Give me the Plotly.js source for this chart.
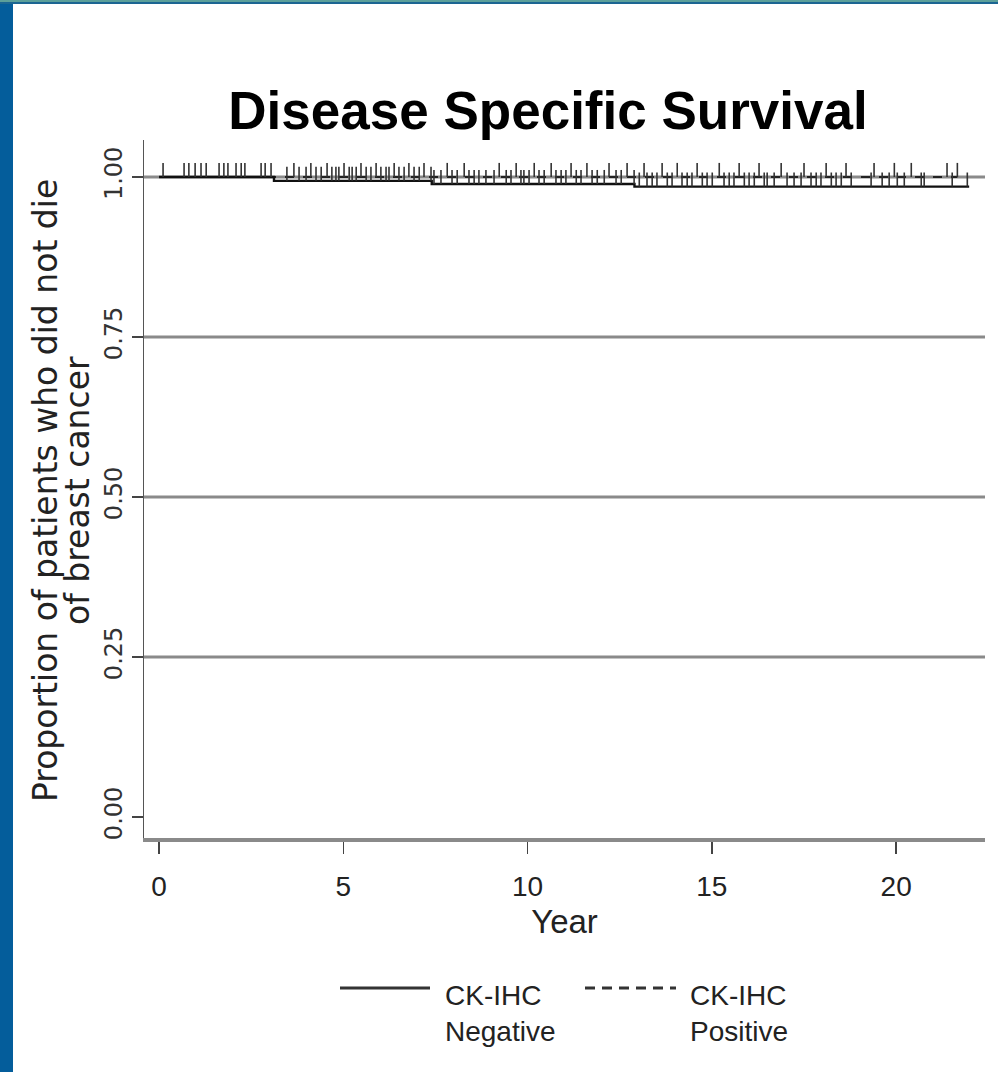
<!DOCTYPE html>
<html>
<head>
<meta charset="utf-8">
<script src="https://cdn.plot.ly/plotly-3.0.1.min.js"></script>
<style>
  html, body { margin: 0; padding: 0; background: #ffffff; }
  #chart { width: 998px; height: 1072px; }
</style>
</head>
<body>
<div id="chart"></div>
<script>
// ---- Data ----
const chartTitle = "Disease Specific Survival";
const xTitle = "Year";
const yTitleLines = ["Proportion of patients who did not die", "of breast cancer"];

const xTickVals = [0, 5, 10, 15, 20];
const yTickVals = [0, 0.25, 0.5, 0.75, 1.0];
const yTickText = ["0.00", "0.25", "0.50", "0.75", "1.00"];
const gridVals = [0.25, 0.5, 0.75, 1.0];

const seriesNames = ["CK-IHC Negative", "CK-IHC Positive"];
const legendLabels = ["CK-IHC<br>Negative", "CK-IHC<br>Positive"];

// Kaplan-Meier step curves
const negTimes = [0, 3.12, 7.40, 12.90, 21.98];
const negSurv  = [1.0, 0.994, 0.989, 0.985, 0.985];
const posTimes = [0, 21.66];
const posSurv  = [1.0, 1.0];

// censoring times
const negCensor = [0.11,0.68,0.81,0.98,1.14,1.28,1.63,1.76,1.87,2.09,2.23,2.33,2.77,2.88,3.04,
  3.47,3.80,3.99,4.26,4.40,4.69,4.80,4.88,5.16,5.24,5.35,5.62,5.75,6.02,6.16,6.24,6.51,6.65,6.92,7.06,
  7.38,7.46,7.65,7.95,8.09,8.41,8.55,8.68,8.87,9.09,9.42,9.55,9.82,9.90,10.04,10.31,10.45,10.77,10.91,
  11.04,11.32,11.45,11.75,11.89,12.08,12.40,12.54,12.89,13.03,13.24,13.38,13.51,13.79,13.92,14.19,14.33,
  14.46,14.74,14.87,15.01,15.33,15.47,15.60,15.88,16.01,16.15,16.42,16.50,16.69,17.04,17.23,17.42,17.69,
  17.83,17.96,18.24,18.37,18.51,18.78,19.32,19.62,19.81,20.03,20.22,20.68,20.76,21.52,21.93];
const posCensor = [3.66,4.12,4.56,5.02,5.48,5.89,6.38,6.78,7.19,7.82,8.28,9.23,9.69,10.18,10.64,11.18,
  11.61,12.21,12.70,13.16,13.65,14.06,14.60,15.20,15.74,16.28,16.88,17.50,18.10,18.64,19.40,19.95,20.41,
  21.38,21.66];

// ---- helpers ----
function survAt(times, surv, t) {
  let s = surv[0];
  for (let i = 0; i < times.length; i++) { if (times[i] <= t) s = surv[i]; }
  return s;
}
const TICK_H = 0.022;
function censorSegments(times, surv, cens) {
  const xs = [], ys = [];
  cens.forEach(t => {
    const s = survAt(times, surv, t);
    xs.push(t, t, null);
    ys.push(s, s + TICK_H, null);
  });
  return {x: xs, y: ys};
}

const negSeg = censorSegments(negTimes, negSurv, negCensor);
const posSeg = censorSegments(posTimes, posSurv, posCensor);

const traces = [
  {x: posTimes, y: posSurv, mode: "lines", line: {shape: "hv", color: "#222", width: 2, dash: "dash"},
   name: seriesNames[1], showlegend: false, hoverinfo: "skip"},
  {x: posSeg.x, y: posSeg.y, mode: "lines", line: {color: "#333", width: 1.6},
   name: seriesNames[1] + " censored", showlegend: false, hoverinfo: "skip"},
  {x: negTimes, y: negSurv, mode: "lines", line: {shape: "hv", color: "#111", width: 2.4},
   name: seriesNames[0], showlegend: false, hoverinfo: "skip"},
  {x: negSeg.x, y: negSeg.y, mode: "lines", line: {color: "#333", width: 1.6},
   name: seriesNames[0] + " censored", showlegend: false, hoverinfo: "skip"}
];

// ---- layout geometry ----
const W = 998, H = 1072;
const M = {l: 144, r: 13, t: 140, b: 234};
const PW = W - M.l - M.r, PH = H - M.t - M.b;
const px = v => (v - M.l) / PW;          // page px -> paper x
const py = v => (H - M.b - v) / PH;      // page px -> paper y

const narrow = "Liberation Sans Narrow, Arial Narrow, Liberation Sans, Arial, sans-serif";
const sans = "Liberation Sans, Arial, Helvetica, sans-serif";
const wide = "DejaVu Sans, Verdana, sans-serif";

const shapes = [];
gridVals.forEach(v => shapes.push({type: "line", xref: "paper", yref: "y", x0: 0, x1: 1, y0: v, y1: v,
  line: {color: "#8a8a8a", width: 3}, layer: "below"}));
// page decoration: blue frame
shapes.push({type: "rect", xref: "paper", yref: "paper", x0: px(0), x1: px(13), y0: py(H), y1: py(0),
  fillcolor: "#045d9b", line: {width: 0}, layer: "above"});
shapes.push({type: "rect", xref: "paper", yref: "paper", x0: px(0), x1: px(W), y0: py(2), y1: py(0),
  fillcolor: "#5b9f9a", line: {width: 0}, layer: "above"});
shapes.push({type: "rect", xref: "paper", yref: "paper", x0: px(0), x1: px(W), y0: py(4), y1: py(2),
  fillcolor: "#1b6592", line: {width: 0}, layer: "above"});
// custom legend keys
shapes.push({type: "line", xref: "paper", yref: "paper", x0: px(340), x1: px(430), y0: py(988), y1: py(988),
  line: {color: "#333", width: 3}});
shapes.push({type: "line", xref: "paper", yref: "paper", x0: px(585), x1: px(676), y0: py(988), y1: py(988),
  line: {color: "#333", width: 3, dash: "10px,7px"}});

const annotations = [
  {xref: "paper", yref: "paper", x: px(443), y: py(1013), xanchor: "left", yanchor: "middle", align: "left",
   text: legendLabels[0], showarrow: false, font: {family: narrow, size: 28, color: "#222"}},
  {xref: "paper", yref: "paper", x: px(688), y: py(1013), xanchor: "left", yanchor: "middle", align: "left",
   text: legendLabels[1], showarrow: false, font: {family: narrow, size: 28, color: "#222"}},
  // y-axis title, two lines
  {xref: "paper", yref: "paper", x: px(45), y: py(491), xanchor: "center", yanchor: "middle", textangle: -90,
   text: yTitleLines[0], showarrow: false, font: {family: wide, size: 33, color: "#222"}},
  {xref: "paper", yref: "paper", x: px(77), y: py(491), xanchor: "center", yanchor: "middle", textangle: -90,
   text: yTitleLines[1], showarrow: false, font: {family: wide, size: 33, color: "#222"}}
];

const layout = {
  width: W, height: H,
  margin: M,
  paper_bgcolor: "#ffffff", plot_bgcolor: "#ffffff",
  showlegend: false,
  title: {text: "<b>" + chartTitle + "</b>", font: {family: sans, size: 53, color: "#000"},
          xref: "container", yref: "container", x: 548 / W, xanchor: "center", y: 1 - 110 / H, yanchor: "middle"},
  xaxis: {range: [-0.407, 22.41], tickvals: xTickVals, ticktext: xTickVals.map(String),
          ticks: "outside", ticklen: 12, tickwidth: 1.5, tickcolor: "#444", ticklabelstandoff: 8,
          showline: true, linecolor: "#8a8a8a", linewidth: 4, showgrid: false, zeroline: false,
          tickfont: {family: narrow, size: 28, color: "#222"},
          title: {text: xTitle, font: {family: narrow, size: 33, color: "#222"}, standoff: 10}},
  yaxis: {range: [-0.0328, 1.0578], tickvals: yTickVals, ticktext: yTickText, tickangle: -90,
          ticks: "outside", ticklen: 11, tickwidth: 1.5, tickcolor: "#444",
          showline: true, linecolor: "#555", linewidth: 1.5, showgrid: false, zeroline: false,
          tickfont: {family: wide, size: 24, color: "#333"}},
  shapes: shapes,
  annotations: annotations
};

Plotly.newPlot("chart", traces, layout, {displayModeBar: false, staticPlot: true});
</script>
</body>
</html>
